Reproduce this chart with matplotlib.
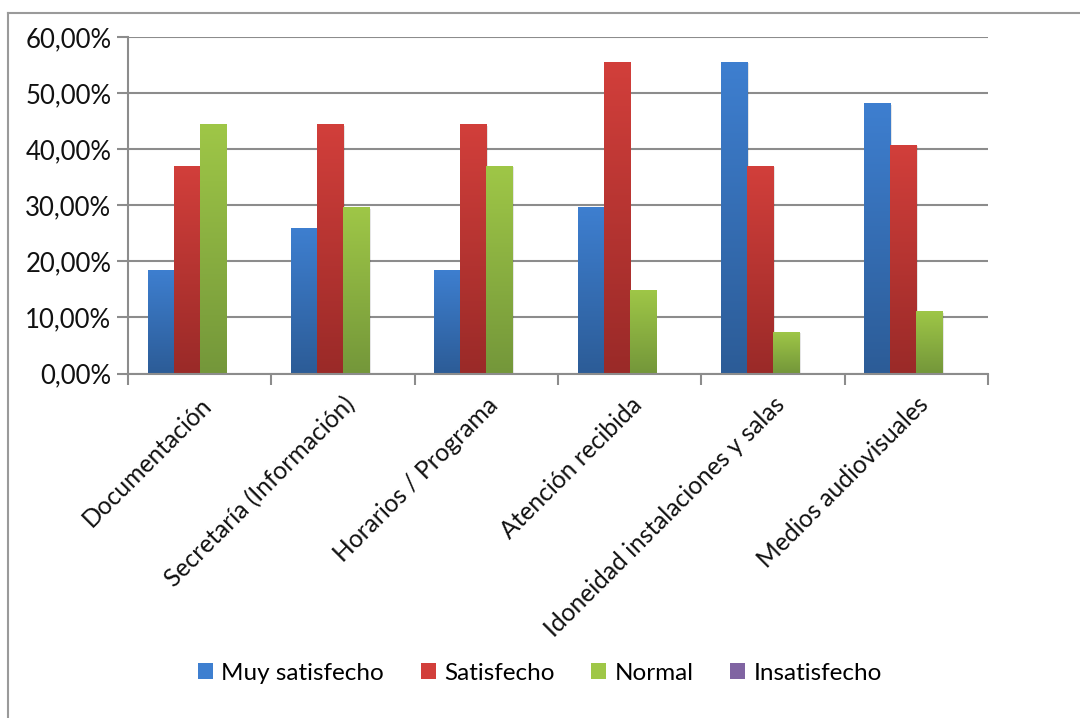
import matplotlib
matplotlib.use("Agg")
import matplotlib.pyplot as plt
import numpy as np
from matplotlib.colors import LinearSegmentedColormap
from matplotlib.patches import Patch
from matplotlib.lines import Line2D
from matplotlib.ticker import FuncFormatter

plt.rcParams['font.family'] = ['Lato', 'DejaVu Sans']

categories = ["Documentación", "Secretaría (Información)", "Horarios / Programa",
              "Atención recibida", "Idoneidad instalaciones y salas", "Medios audiovisuales"]
series_names = ["Muy satisfecho", "Satisfecho", "Normal", "Insatisfecho"]
muy_satisfecho = [18.52, 25.93, 18.52, 29.63, 55.56, 48.15]
satisfecho = [37.04, 44.44, 44.44, 55.56, 37.04, 40.74]
normal = [44.44, 29.63, 37.04, 14.81, 7.41, 11.11]
insatisfecho = [0, 0, 0, 0, 0, 0]
series_values = [muy_satisfecho, satisfecho, normal, insatisfecho]
y_ticks = [0, 10, 20, 30, 40, 50, 60]

top_colors = ["#3E7FD0", "#D23F3B", "#9FC747", "#8064A2"]
bot_colors = ["#2C5C97", "#9A2A28", "#74973A", "#5E4A7C"]

fig = plt.figure(figsize=(10.8, 7.18), dpi=100)
ax = fig.add_axes([128/1080, 1-373.5/718, (988-128)/1080, (373.5-37)/718])

n = len(categories)
x = np.arange(n)
w = 1/5.5
for j, vals in enumerate(series_values):
    bars = ax.bar(x + (j - 1.5) * w, vals, width=w, color=top_colors[j],
                  zorder=3, linewidth=0)
    cmap = LinearSegmentedColormap.from_list("g%d" % j, [bot_colors[j], top_colors[j]])
    for b in bars:
        h = b.get_height()
        if h <= 0:
            continue
        ax.bar(b.get_x() + b.get_width()/2 + 0.012, h, width=b.get_width(),
               bottom=-0.25, color="#000000", alpha=0.10, zorder=2.5, linewidth=0)
        grad = np.linspace(0, 1, 256).reshape(-1, 1)
        im = ax.imshow(grad, cmap=cmap, aspect='auto', origin='lower',
                       extent=[b.get_x(), b.get_x() + b.get_width(), 0, h], zorder=3.5)
        im.set_clip_path(b)

ax.set_xlim(-0.5, n - 0.5)
ax.set_ylim(0, 60)
ax.set_yticks(y_ticks)
ax.yaxis.set_major_formatter(FuncFormatter(lambda v, p: ("%.2f%%" % v).replace(".", ",")))
ax.grid(axis='y', color='#8C8C8C', linewidth=1.5, zorder=1)
ax.set_axisbelow(True)

for s in ['top', 'right']:
    ax.spines[s].set_visible(False)
for s in ['left', 'bottom']:
    ax.spines[s].set_color('#8C8C8C')
    ax.spines[s].set_linewidth(1.5)
    ax.spines[s].set_zorder(4)

ax.set_xticks(np.arange(n + 1) - 0.5, minor=False)
ax.set_xticklabels([])
ax.tick_params(axis='x', which='major', direction='out', length=8, width=1.5, color='#8C8C8C')
ax.set_xticks(x, minor=True)
ax.set_xticklabels(categories, minor=True, rotation=45, ha='right',
                   rotation_mode='anchor', fontsize=17.7, color='#111111')
ax.tick_params(axis='x', which='minor', length=0, pad=14)
ax.tick_params(axis='y', direction='out', length=8, width=1.5, color='#8C8C8C',
               labelsize=18.5, labelcolor='#111111', pad=4)

handles = [Patch(facecolor=top_colors[j], edgecolor='none') for j in range(4)]
fig.legend(handles, series_names, loc='center', bbox_to_anchor=(0.5, 1-673/718),
           ncol=4, frameon=False, fontsize=17.5, handlelength=0.62, handleheight=0.62,
           handletextpad=0.35, columnspacing=1.5)

fig.add_artist(Line2D([8/1080, 1.0], [1-13/718, 1-13/718], color='#9A9A9A', lw=1.5,
                      transform=fig.transFigure))
fig.add_artist(Line2D([8/1080, 8/1080], [0.0, 1-13/718], color='#9A9A9A', lw=1.5,
                      transform=fig.transFigure))

fig.savefig("out.png", dpi=100)
